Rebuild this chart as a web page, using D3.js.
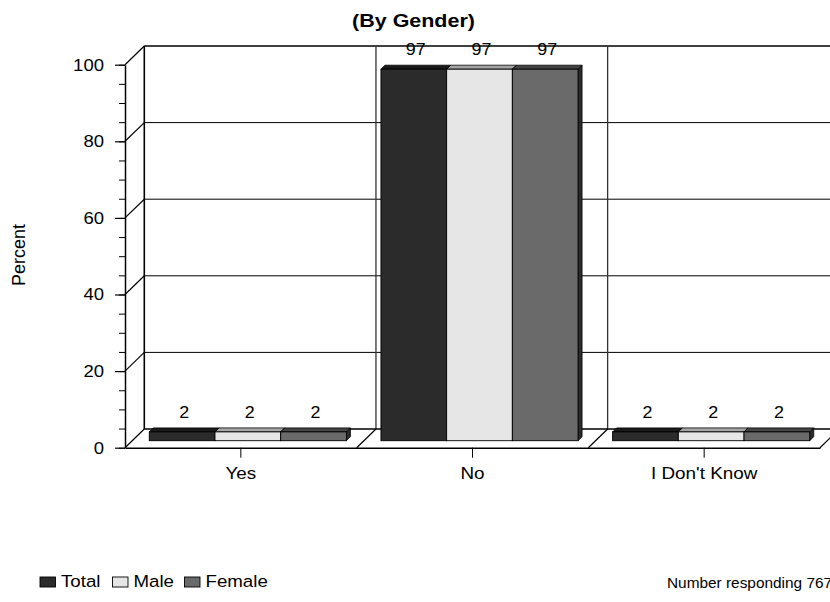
<!DOCTYPE html>
<html>
<head>
<meta charset="utf-8">
<script src="https://cdn.jsdelivr.net/npm/d3@7"></script>
<style>
  html, body { margin: 0; padding: 0; background: #fff; }
  svg { display: block; font-family: "Liberation Sans", Arial, sans-serif; }
  text.stretch { transform-box: fill-box; }
</style>
</head>
<body>
<svg id="chart" width="830" height="602"></svg>
<script>
// ---- data ----
const categories = ["Yes", "No", "I Don't Know"];
const seriesNames = ["Total", "Male", "Female"];
const totalValues = [2.3, 97, 2.3];
const maleValues = [2.3, 97, 2.3];
const femaleValues = [2.3, 97, 2.3];
const yTicks = [0, 20, 40, 60, 80, 100];
const yMinorTicks = d3.range(0, 101, 5);
const title = "(By Gender)";
const yTitle = "Percent";
const footnote = "Number responding 767";

const seriesValues = [totalValues, maleValues, femaleValues];
const frontFill = ["#2b2b2b", "#e6e6e6", "#6a6a6a"];
const topFill = ["#1a1a1a", "#a6a6a6", "#454545"];
const sideFill = ["#111111", "#8a8a8a", "#2c2c2c"];

// horizontal stretch helper (keeps anchor edge fixed)
function stretch(sel, sx, origin) {
  sel.classed("stretch", true)
    .style("transform-origin", origin)
    .style("transform", `scaleX(${sx})`);
}

// ---- layout ----
const svg = d3.select("#chart");
const left = 125, right = 820, base = 447.7, top100 = 64.7;
const DX = 19.3, DY = -18.7;          // depth of the 3D box
const BX = 7, BY = -7;                // bar front plane offset
const BD = 4;                         // bar thickness

const x = d3.scaleBand().domain(categories).range([left, right]).padding(0);
const xs = d3.scaleBand().domain(seriesNames).range([0, x.bandwidth()])
  .paddingInner(0).paddingOuter(0.263);
const y = d3.scaleLinear().domain([0, 100]).range([base, top100]);

const g = svg.append("g");

// back wall gridlines
g.append("g").selectAll("line").data(yTicks.filter(d => d > 0 && d < 100)).join("line")
  .attr("x1", left + DX).attr("x2", 830)
  .attr("y1", d => y(d) + DY).attr("y2", d => y(d) + DY)
  .attr("stroke", "#000").attr("stroke-width", 1);
// back wall top
g.append("line").attr("x1", left + DX).attr("x2", 830)
  .attr("y1", y(100) + DY).attr("y2", y(100) + DY)
  .attr("stroke", "#000").attr("stroke-width", 1.6);
// category dividers on back wall and floor
const dividers = categories.slice(1).map(c => x(c));
g.append("g").selectAll("line").data(dividers).join("line")
  .attr("x1", d => d + DX).attr("x2", d => d + DX)
  .attr("y1", y(100) + DY).attr("y2", y(0) + DY)
  .attr("stroke", "#333").attr("stroke-width", 1.3);
g.append("g").selectAll("line").data(dividers.concat([right])).join("line")
  .attr("x1", d => d).attr("x2", d => d + DX)
  .attr("y1", y(0)).attr("y2", y(0) + DY)
  .attr("stroke", "#000").attr("stroke-width", 1.2);
// floor back line
g.append("line").attr("x1", left + DX).attr("x2", 830)
  .attr("y1", y(0) + DY).attr("y2", y(0) + DY)
  .attr("stroke", "#000").attr("stroke-width", 1.3);
// left wall back edge
g.append("line").attr("x1", left + DX).attr("x2", left + DX)
  .attr("y1", y(100) + DY).attr("y2", y(0) + DY)
  .attr("stroke", "#000").attr("stroke-width", 1.6);
// left wall diagonals
g.append("g").selectAll("line").data(yTicks).join("line")
  .attr("x1", left).attr("x2", left + DX)
  .attr("y1", d => y(d)).attr("y2", d => y(d) + DY)
  .attr("stroke", "#000").attr("stroke-width", 1.2);

// ---- bars ----
const bars = [];
categories.forEach((c, i) => {
  seriesNames.forEach((s, j) => {
    bars.push({ c, s, j, v: seriesValues[j][i] });
  });
});
const bg = g.append("g");
bars.forEach(b => {
  const x0 = x(b.c) + xs(b.s) + BX;
  const w = xs.bandwidth();
  const yb = y(0) + BY;
  const yt = y(b.v) + BY;
  bg.append("path")
    .attr("d", `M${x0 + w},${yt} L${x0 + w + BD},${yt - BD} L${x0 + w + BD},${yb - BD} L${x0 + w},${yb} Z`)
    .attr("fill", sideFill[b.j]).attr("stroke", "#000").attr("stroke-width", 0.8);
  bg.append("path")
    .attr("d", `M${x0},${yt} L${x0 + BD},${yt - BD} L${x0 + w + BD},${yt - BD} L${x0 + w},${yt} Z`)
    .attr("fill", topFill[b.j]).attr("stroke", "#000").attr("stroke-width", 0.8);
  bg.append("rect")
    .attr("x", x0).attr("y", yt).attr("width", w).attr("height", yb - yt)
    .attr("fill", frontFill[b.j]).attr("stroke", "#000").attr("stroke-width", 0.9);
  bg.append("text")
    .attr("x", x0 + w / 2 + BD / 2)
    .attr("y", yt - BD - 10)
    .attr("text-anchor", "middle")
    .attr("font-size", 17)
    .text(d3.format(".0f")(b.v))
    .call(stretch, 1.05, "center");
});

// ---- axes ----
const yAxis = d3.axisLeft(y).tickValues(yTicks).tickSize(10).tickPadding(11).tickSizeOuter(0);
const ya = svg.append("g").attr("transform", `translate(${left},0)`).call(yAxis);
ya.select(".domain").attr("stroke-width", 1.5);
ya.selectAll(".tick line").attr("stroke-width", 1.2);
ya.selectAll("text").attr("font-size", 17).attr("font-family", null).attr("fill", "#000")
  .call(stretch, 1.09, "right center");
const yMinor = d3.axisLeft(y).tickValues(yMinorTicks).tickSize(6).tickFormat("").tickSizeOuter(0);
svg.append("g").attr("transform", `translate(${left},0)`).call(yMinor)
  .call(s => s.select(".domain").remove());

const xAxis = d3.axisBottom(x).tickSize(10).tickPadding(9).tickSizeOuter(0);
const xa = svg.append("g").attr("transform", `translate(0,${base})`).call(xAxis);
xa.select(".domain").attr("stroke-width", 1.5);
xa.selectAll("text").attr("font-size", 17).attr("font-family", null).attr("fill", "#000")
  .call(stretch, 1.11, "center");

// ---- titles ----
svg.append("text").attr("x", 413.5).attr("y", 27.5).attr("text-anchor", "middle")
  .attr("font-size", 19).attr("font-weight", "bold").text(title)
  .call(stretch, 1.13, "center");
svg.append("text").attr("transform", "translate(25,255) rotate(-90)")
  .attr("text-anchor", "middle").attr("font-size", 18).text(yTitle);

// ---- legend ----
const legendX = [40, 112.5, 184.5];
const lg = svg.append("g");
seriesNames.forEach((s, j) => {
  lg.append("rect").attr("x", legendX[j]).attr("y", 577).attr("width", 15.5).attr("height", 10)
    .attr("fill", frontFill[j]).attr("stroke", "#000").attr("stroke-width", 0.9);
  lg.append("text").attr("x", legendX[j] + 21).attr("y", 587.5)
    .attr("font-size", 17).text(s)
    .call(stretch, 1.1, "left center");
});

svg.append("text").attr("x", 667).attr("y", 588.5).attr("font-size", 14).text(footnote)
  .call(stretch, 1.1, "left center");
</script>
</body>
</html>
